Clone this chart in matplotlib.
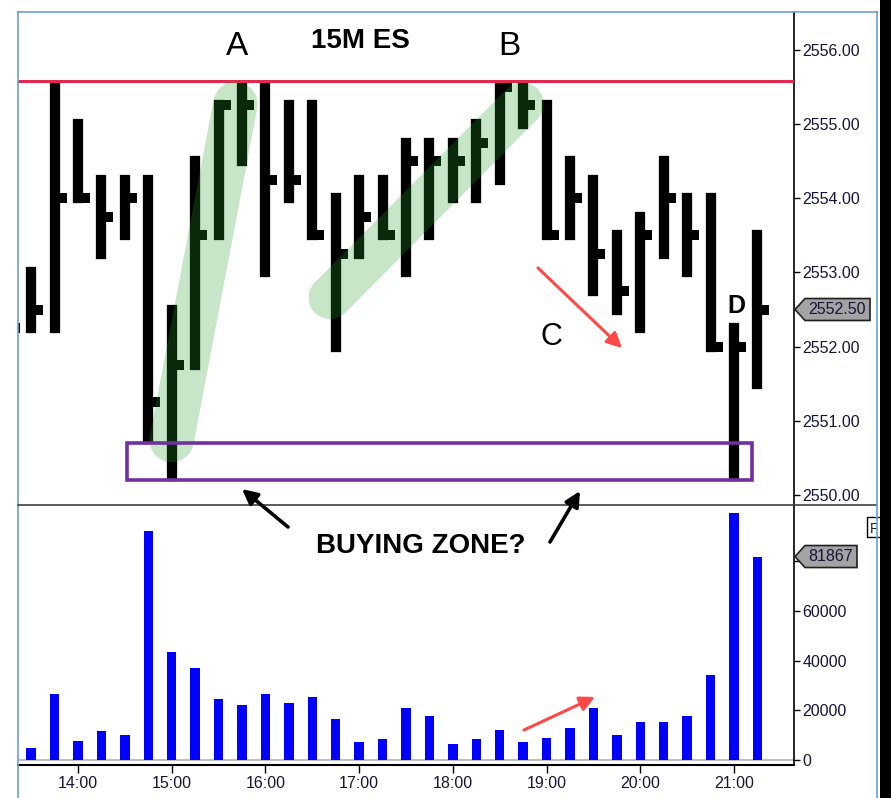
import numpy as np
import matplotlib
matplotlib.use("Agg")
import matplotlib.pyplot as plt
import matplotlib.transforms as mtransforms
from matplotlib.patches import Rectangle, Polygon, FancyArrowPatch
from matplotlib.lines import Line2D

plt.rcParams['font.family'] = ['Liberation Sans', 'DejaVu Sans']

# 15 minute ES bars (HLC)
times = ["13:15", "13:30", "13:45", "14:00", "14:15", "14:30", "14:45", "15:00",
         "15:15", "15:30", "15:45", "16:00", "16:15", "16:30", "16:45", "17:00",
         "17:15", "17:30", "17:45", "18:00", "18:15", "18:30", "18:45", "19:00",
         "19:15", "19:30", "19:45", "20:00", "20:15", "20:30", "20:45", "21:00",
         "21:15"]
highs = [2552.50, 2553.00, 2555.50, 2555.00, 2554.25, 2554.25, 2554.25, 2552.50,
         2554.50, 2555.25, 2555.50, 2555.50, 2555.25, 2555.25, 2554.00, 2554.25,
         2554.25, 2554.75, 2554.75, 2554.75, 2555.00, 2555.50, 2555.50, 2555.25,
         2554.50, 2554.25, 2553.50, 2553.75, 2554.50, 2554.00, 2554.00, 2552.25,
         2553.50]
lows = [2552.00, 2552.25, 2552.25, 2554.00, 2553.25, 2553.50, 2550.75, 2550.25,
        2551.75, 2553.50, 2554.50, 2553.00, 2554.00, 2553.50, 2552.00, 2553.25,
        2553.50, 2553.00, 2553.50, 2554.00, 2554.00, 2554.25, 2555.00, 2553.50,
        2553.50, 2552.75, 2552.50, 2552.25, 2553.25, 2553.00, 2552.00, 2550.25,
        2551.50]
closes = [2552.25, 2552.50, 2554.00, 2554.00, 2553.75, 2554.00, 2551.25, 2551.75,
          2553.50, 2555.25, 2555.25, 2554.25, 2554.25, 2553.50, 2553.25, 2553.75,
          2553.50, 2554.50, 2554.50, 2554.50, 2554.75, 2555.50, 2555.25, 2553.50,
          2554.00, 2553.25, 2552.75, 2553.50, 2554.00, 2553.50, 2552.00, 2552.00,
          2552.50]
volumes = [6000, 4700, 26500, 7800, 11500, 10200, 92300, 43300,
           37200, 24500, 22200, 26500, 22800, 25200, 16500, 7100,
           8300, 20800, 17700, 6300, 8300, 12100, 7100, 9000,
           12700, 20800, 10100, 15200, 15200, 17700, 34200, 99300,
           81867]

hour_ticks = [14, 15, 16, 17, 18, 19, 20, 21]
price_ticks = [2550, 2551, 2552, 2553, 2554, 2555, 2556]
vol_ticks = [0, 20000, 40000, 60000, 80000]
resistance = 2555.58

x = np.array([int(t[:2]) + int(t[3:]) / 60 for t in times])

W, H = 891, 798
fig = plt.figure(figsize=(W / 100, H / 100), dpi=100)


def fp(px, py):
    return (px / W, 1 - py / H)


def box(x0, y0, x1, y1):
    return [x0 / W, 1 - y1 / H, (x1 - x0) / W, (y1 - y0) / H]


ax = fig.add_axes(box(18, 12, 794, 505))
ax2 = fig.add_axes(box(18, 505, 794, 765))

for a in (ax, ax2):
    a.set_xlim(13.36, 21.64)
    for s in a.spines.values():
        s.set_visible(False)
    a.spines['right'].set_visible(True)
    a.spines['right'].set_linewidth(1.2)

ax.set_ylim(2549.865, 2556.51)
ax2.set_ylim(-2000, 102600)
ax2.spines['bottom'].set_visible(True)
ax2.spines['bottom'].set_linewidth(1.5)

tick_col = '#15153a'
ax.yaxis.tick_right()
ax.set_yticks(price_ticks)
ax.set_yticklabels(["%.2f" % p for p in price_ticks])
ax.tick_params(axis='y', direction='out', length=4.5, width=1, pad=1.5,
               labelsize=11.5, labelcolor=tick_col)
ax.tick_params(axis='x', bottom=False, labelbottom=False)

ax2.yaxis.tick_right()
ax2.set_yticks(vol_ticks)
ax2.set_yticklabels([str(v) for v in vol_ticks])
ax2.tick_params(axis='y', direction='out', length=4.5, width=1, pad=1.5,
                labelsize=11.5, labelcolor=tick_col)
ax2.set_xticks(hour_ticks)
ax2.set_xticklabels(["%d:00" % h for h in hour_ticks])
ax2.tick_params(axis='x', direction='out', length=6, width=1, pad=2,
                labelsize=11.5, labelcolor=tick_col)

# HLC bars
bars = ax.vlines(x, lows, highs, color='black', lw=7.4, zorder=2)
bars.set_capstyle('projecting')
ticks = ax.hlines(closes, x, x + 0.128, color='black', lw=7.2, zorder=2)
ticks.set_capstyle('butt')

ax.axhline(resistance, color='#e3284f', lw=2.2, zorder=3)

# green highlight bands
green = (0.16, 0.62, 0.16)
ax.plot([15.0, 15.68], [2550.74, 2555.27], lw=32, color=green, alpha=0.26,
        solid_capstyle='round', zorder=3)
ax.plot([16.69, 18.74], [2552.66, 2555.27], lw=31, color=green, alpha=0.26,
        solid_capstyle='round', zorder=3)

ax.add_patch(Rectangle((14.52, 2550.20), 21.19 - 14.52, 0.50, fill=False,
                       ec='#7030a0', lw=2.6, zorder=4))

# volume
ax2.axhline(0, color='#b8b8b8', lw=1.3, zorder=1)
ax2.bar(x, volumes, width=0.1, color='#0000ff', zorder=2)

# last value tags
def tag(a, val, text, right, half):
    tr = mtransforms.blended_transform_factory(a.transAxes, a.transData)
    x0 = (795 - 18) / 776
    xn = (805 - 18) / 776
    x1 = (right - 18) / 776
    pts = [(x0, val), (xn, val + half), (x1, val + half), (x1, val - half), (xn, val - half)]
    a.add_patch(Polygon(pts, closed=True, transform=tr, clip_on=False,
                        fc='#a3a3a3', ec='#202020', lw=1.2, zorder=6))
    a.text((808 - 18) / 776, val, text, transform=tr, ha='left', va='center',
           fontsize=11.5, color='#15153a', zorder=7, clip_on=False)

tag(ax, closes[-1], "%.2f" % closes[-1], 870, 0.148)
tag(ax2, volumes[-1], str(volumes[-1]), 857, 4427)

# frame lines
frame_blue = '#6a9fd8'
fig.add_artist(Line2D([18 / W, 18 / W], [0, 1 - 12 / H], color=frame_blue, lw=1.2, zorder=8))
fig.add_artist(Line2D([18 / W, 877 / W], [1 - 12 / H, 1 - 12 / H], color=frame_blue, lw=1.2, zorder=8))
fig.add_artist(Line2D([18 / W, 877 / W], [1 - 505 / H, 1 - 505 / H], color='#404040', lw=1.2, zorder=8))
fig.add_artist(Rectangle(fp(867, 537), 18 / W, 20 / H, fc='white', ec='black', lw=1, zorder=8))
fig.text(*fp(870, 533), "F", fontsize=10, color='#202020', zorder=8)
fig.add_artist(Rectangle((880 / W, 0), 11 / W, 1, fc='black', ec='none', zorder=9))
fig.add_artist(Line2D([877 / W, 877 / W], [0, 1 - 12 / H], color=frame_blue, lw=1.2, zorder=9))

# annotations
fig.text(*fp(360, 48), "15M ES", ha='center', va='baseline', fontsize=20,
         fontweight='bold', zorder=10)
fig.text(*fp(237, 55), "A", ha='center', va='baseline', fontsize=24, zorder=10)
fig.text(*fp(509, 55), "B", ha='center', va='baseline', fontsize=24, zorder=10)
fig.text(*fp(551, 345), "C", ha='center', va='baseline', fontsize=22, zorder=10)
fig.text(*fp(736, 313), "D", ha='center', va='baseline', fontsize=18,
         fontweight='bold', zorder=10)
fig.text(*fp(421, 553), "BUYING ZONE?", ha='center', va='baseline', fontsize=20,
         fontweight='bold', zorder=10)


def arrow(p0, p1, col, lw):
    fig.add_artist(FancyArrowPatch(fp(*p0), fp(*p1), transform=fig.transFigure,
                                   arrowstyle='-|>,head_length=0.9,head_width=0.45',
                                   mutation_scale=10, color=col, lw=lw,
                                   shrinkA=0, shrinkB=0, zorder=10))


arrow((288, 527), (242, 489), 'black', 2.6)
arrow((550, 542), (580, 491), 'black', 2.6)
arrow((538, 268), (622, 348), '#ff4848', 2.2)
arrow((524, 730), (595, 697), '#ff4848', 2.2)

fig.savefig("out.png", dpi=100)
